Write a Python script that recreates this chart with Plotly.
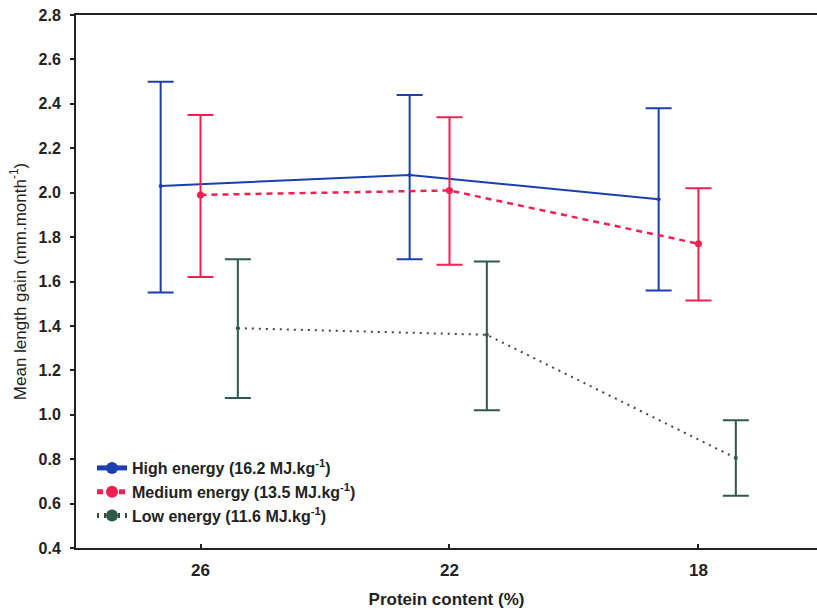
import plotly.graph_objects as go

categories = ["26", "22", "18"]
cat_pos = [0, 1, 2]

high_mean = [2.03, 2.08, 1.97]
high_up = [2.50, 2.44, 2.38]
high_lo = [1.55, 1.70, 1.56]

med_mean = [1.99, 2.01, 1.77]
med_up = [2.35, 2.34, 2.02]
med_lo = [1.62, 1.675, 1.515]

low_mean = [1.39, 1.36, 0.805]
low_up = [1.70, 1.69, 0.975]
low_lo = [1.075, 1.02, 0.635]

offsets = [-0.16, 0.0, 0.15]
names = ["High energy (16.2 MJ.kg<sup>-1</sup>)",
         "Medium energy (13.5 MJ.kg<sup>-1</sup>)",
         "Low energy (11.6 MJ.kg<sup>-1</sup>)"]
colors = ["#1c3fae", "#ee2152", "#2e5a48"]
line_colors = ["#1c3fae", "#ee2152", "#3a4a44"]
dashes = ["solid", "6px,5px", "2px,5px"]
widths = [2, 2.5, 2]
msizes = [4, 7, 4]

FONT = "Liberation Sans, Arial, sans-serif"

fig = go.Figure()
for i, (m, u, l) in enumerate([(high_mean, high_up, high_lo),
                                (med_mean, med_up, med_lo),
                                (low_mean, low_up, low_lo)]):
    xs = [p + offsets[i] for p in cat_pos]
    fig.add_trace(go.Scatter(
        x=xs, y=m, name=names[i], mode="lines+markers",
        line=dict(color=line_colors[i], dash=dashes[i], width=widths[i]),
        marker=dict(color=colors[i], size=msizes[i]),
        error_y=dict(type="data", symmetric=False,
                     array=[a - b for a, b in zip(u, m)],
                     arrayminus=[b - a for a, b in zip(l, m)],
                     color=colors[i], thickness=2, width=13),
    ))

fig.update_layout(
    width=817, height=616,
    margin=dict(l=76, r=0, t=15, b=68),
    plot_bgcolor="white", paper_bgcolor="white",
    font=dict(family=FONT, color="#222222", size=17),
    showlegend=True,
    legend=dict(x=0.0216, y=0.182, xanchor="left", yanchor="top",
                bgcolor="rgba(0,0,0,0)",
                font=dict(size=16, color="#222", weight="bold"),
                tracegroupgap=0, itemsizing="constant"),
    xaxis=dict(range=[-0.5, 2.476], tickmode="array", tickvals=cat_pos,
               ticktext=categories, ticks="inside", ticklen=4, tickwidth=1.5,
               tickcolor="#222", showgrid=False, zeroline=False,
               showline=True, linecolor="#222", linewidth=2, mirror=True,
               ticklabelstandoff=6,
               title=dict(text="<b>Protein content (%)</b>", font=dict(size=17), standoff=14),
               tickfont=dict(size=17, weight="bold")),
    yaxis=dict(range=[0.4, 2.8], dtick=0.2, tickformat=".1f",
               ticks="outside", ticklen=4, tickwidth=1.5, tickcolor="#222",
               showgrid=False, zeroline=False,
               showline=True, linecolor="#222", linewidth=2, mirror=False,
               ticklabelstandoff=6,
               title=dict(text="Mean length gain (mm.month<sup>-1</sup>)", font=dict(size=17), standoff=8),
               tickfont=dict(size=16, weight="bold")),
)

fig.write_html("out.html")
